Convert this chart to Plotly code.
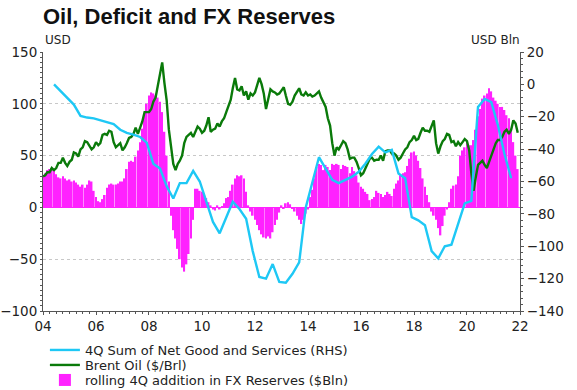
import plotly.graph_objects as go
import pandas as pd

# ---------------- data ----------------
month_dates = pd.date_range("2004-01-01", "2021-12-01", freq="MS")
quarter_dates = pd.date_range("2004-06-01", "2021-09-01", freq="3MS")

fx_reserves = [
    # 2004
    30, 33, 36, 37, 38, 36, 32, 29, 28, 30, 28, 26,
    # 2005
    27, 25, 26, 24, 22, 20, 22, 19, 22, 26, 25, 16,
    # 2006
    10, 6, 5, 8, 12, 19, 22, 23, 22, 22, 23, 25,
    # 2007
    25, 28, 37, 44, 45, 44, 49, 55, 63, 76, 90, 100,
    # 2008
    108, 111, 110, 108, 106, 102, 92, 73, 50, 25, -8, -22,
    # 2009
    -30, -40, -50, -58, -62, -55, -45, -30, -12, 18, 18, 16,
    # 2010
    15, 12, 9, 5, 2, -2, -3, 2, -2, 1, 4, 9,
    # 2011
    10, 16, 22, 28, 31, 30, 31, 28, 15, 2, -4, -8,
    # 2012
    -12, -17, -22, -26, -29, -30, -28, -30, -24, -17, -12, -5,
    # 2013
    2, -1, 4, 5, 3, -1, -4, -8, -12, -16, -12, -6,
    # 2014
    -2, 10, 17, 28, 39, 42, 41, 36, 41, 39, 36, 42,
    # 2015
    41, 42, 41, 37, 41, 40, 39, 33, 39, 35, 31, 24,
    # 2016
    20, 18, 15, 13, 7, 8, 10, 16, 14, 13, 10, 12,
    # 2017
    15, 13, 11, 18, 23, 26, 31, 33, 34, 40, 47, 53,
    # 2018
    54, 50, 45, 38, 28, 20, 12, 5, -4, -8, -12, -20,
    # 2019
    -27, -18, -8, -2, 5, 18, 21, 22, 30, 50, 55, 58,
    # 2020
    63, 60, 60, 65, 75, 88, 95, 105, 108, 110, 115, 112,
    # 2021
    106, 103, 100, 97, 97, 94, 89, 86, 76, 63, 50, 37,
]

brent_oil = [
    # 2004
    30, 31, 34, 34, 38, 36, 38, 43, 43, 48, 43, 40,
    # 2005
    44, 46, 53, 52, 49, 56, 58, 64, 63, 59, 56, 58,
    # 2006
    63, 60, 62, 70, 71, 70, 74, 73, 63, 58, 60, 62,
    # 2007
    55, 58, 62, 67, 68, 71, 77, 71, 77, 83, 92, 92,
    # 2008
    92, 95, 102, 106, 118, 130, 140, 120, 103, 75, 55, 42,
    # 2009
    36, 42, 45, 50, 62, 68, 70, 72, 68, 74, 78, 76,
    # 2010
    72, 74, 79, 87, 73, 75, 76, 81, 78, 83, 86, 92,
    # 2011
    98, 104, 115, 125, 114, 113, 117, 108, 112, 104, 110, 108,
    # 2012
    111, 119, 125, 119, 110, 95, 103, 114, 112, 111, 109, 110,
    # 2013
    113, 116, 108, 100, 99, 102, 108, 112, 115, 109, 108, 111,
    # 2014
    108, 109, 107, 108, 110, 112, 106, 102, 97, 86, 79, 62,
    # 2015
    50, 58, 56, 60, 64, 62, 56, 47, 48, 48, 44, 38,
    # 2016
    31, 33, 38, 42, 47, 48, 45, 46, 46, 50, 45, 54,
    # 2017
    55, 55, 52, 52, 50, 46, 48, 52, 56, 58, 63, 65,
    # 2018
    69, 65, 66, 72, 77, 74, 74, 73, 79, 84, 62, 52,
    # 2019
    59, 64, 66, 71, 70, 63, 64, 59, 63, 60, 63, 66,
    # 2020
    64, 55, 33, 16, 29, 41, 43, 45, 41, 38, 44, 50,
    # 2021
    55, 62, 65, 65, 68, 73, 75, 71, 75, 84, 81, 72,
]

net_goods_services = [
    # 2004 (Jun, Sep, Dec)
    0, -4, -8,
    # 2005
    -12.5, -19.5, -20.5, -21,
    # 2006
    -22, -23, -24.5, -28,
    # 2007
    -30, -31, -32.5, -36,
    # 2008
    -49, -52, -63, -70.5,
    # 2009
    -61, -61, -53.5, -60,
    # 2010
    -73, -85, -92, -82,
    # 2011
    -72.5, -77, -83, -103,
    # 2012
    -119, -120, -111, -122,
    # 2013
    -122.5, -117, -110, -76,
    # 2014
    -60, -45, -52, -59,
    # 2015
    -61, -59, -57, -54,
    # 2016
    -49, -43, -38.5, -42,
    # 2017
    -40.5, -55, -58, -82,
    # 2018
    -84, -87, -103, -107.5,
    # 2019
    -100, -99, -86, -73.5,
    # 2020
    -72, -14, -9, -11,
    # 2021 (Mar, Jun, Sep)
    -25, -43, -58,
]

left_ticks = [-100, -50, 0, 50, 100, 150]
right_ticks = [-140, -120, -100, -80, -60, -40, -20, 0, 20]

FONT = "DejaVu Sans, Verdana, sans-serif"
TITLE_FONT = "Liberation Sans, Arial, sans-serif"
AXIS_COLOR = "#555555"
TICK_SIZE = 13.5

fig = go.Figure()

fig.add_trace(go.Bar(
    x=month_dates, y=fx_reserves,
    name="rolling 4Q addition in FX Reserves ($Bln)",
    marker=dict(color="#ff22ff", line=dict(width=0)),
    legend="legend3",
))
fig.add_trace(go.Scatter(
    x=quarter_dates, y=net_goods_services, yaxis="y2",
    name="4Q Sum of Net Good and Services (RHS)",
    mode="lines", line=dict(color="#1ec8f5", width=2.4),
    legend="legend",
))
fig.add_trace(go.Scatter(
    x=month_dates, y=brent_oil,
    name="Brent Oil ($/Brl)",
    mode="lines", line=dict(color="#0a7a0a", width=2.4),
    legend="legend2",
))

PLOT_TOP, PLOT_BOTTOM = 52, 311
PLOT_H = PLOT_BOTTOM - PLOT_TOP


def legend_at(center_px):
    return dict(
        x=0.004, y=(PLOT_BOTTOM - center_px) / PLOT_H,
        xanchor="left", yanchor="middle",
        font=dict(family=FONT, size=13, color="#222222"),
        bgcolor="rgba(0,0,0,0)", borderwidth=0, itemwidth=30,
    )


fig.update_layout(
    width=577, height=390,
    margin=dict(l=43, r=57, t=PLOT_TOP, b=390 - PLOT_BOTTOM, autoexpand=False),
    paper_bgcolor="white", plot_bgcolor="white",
    font=dict(family=FONT, size=14, color="#222222"),
    bargap=0.18,
    showlegend=True,
    title=dict(
        text="<b>Oil, Deficit and FX Reserves</b>",
        font=dict(family=TITLE_FONT, size=22, color="#111111"),
        xref="container", x=43 / 577, xanchor="left",
        yref="container", y=1 - 16 / 390, yanchor="middle",
    ),
    legend=legend_at(350),
    legend2=legend_at(365),
    legend3=legend_at(380),
    xaxis=dict(
        type="date",
        range=["2004-01-01", "2022-01-01"],
        dtick="M24", tick0="2004-01-01", tickformat="%y",
        ticks="outside", ticklen=3, tickcolor=AXIS_COLOR,
        showline=True, linecolor=AXIS_COLOR, linewidth=1,
        showgrid=False, zeroline=False, automargin=False,
        minor=dict(dtick="M3", ticks="outside", ticklen=2, tickcolor=AXIS_COLOR, showgrid=False),
        tickfont=dict(size=TICK_SIZE),
    ),
    yaxis=dict(
        range=[-100, 150],
        tickvals=left_ticks,
        ticks="outside", ticklen=2, tickcolor=AXIS_COLOR,
        showline=True, linecolor=AXIS_COLOR, linewidth=1,
        showgrid=True, gridcolor="#c8c8c8", griddash="dot", gridwidth=1,
        zeroline=True, zerolinecolor="#ff22ff", zerolinewidth=1,
        automargin=False,
        minor=dict(dtick=5, ticks="outside", ticklen=2, tickcolor=AXIS_COLOR, showgrid=False),
        tickfont=dict(size=TICK_SIZE),
    ),
    yaxis2=dict(
        overlaying="y", side="right",
        range=[-140, 20],
        tickvals=right_ticks,
        ticks="outside", ticklen=3, tickcolor=AXIS_COLOR,
        showline=True, linecolor=AXIS_COLOR, linewidth=1,
        showgrid=False, zeroline=False, automargin=False,
        minor=dict(dtick=4, ticks="outside", ticklen=2, tickcolor=AXIS_COLOR, showgrid=False),
        tickfont=dict(size=TICK_SIZE),
    ),
    annotations=[
        dict(text="USD", xref="paper", yref="paper", x=0.0, y=(PLOT_BOTTOM - 40) / PLOT_H,
             xanchor="left", yanchor="middle", showarrow=False,
             font=dict(family=FONT, size=12, color="#222222")),
        dict(text="USD Bln", xref="paper", yref="paper", x=1.004, y=(PLOT_BOTTOM - 40) / PLOT_H,
             xanchor="right", yanchor="middle", showarrow=False,
             font=dict(family=FONT, size=12, color="#222222")),
    ],
)

fig.write_html(
    "out.html",
    config={"displayModeBar": False},
    post_script="document.body.style.margin='0';document.body.style.overflow='hidden';",
)
